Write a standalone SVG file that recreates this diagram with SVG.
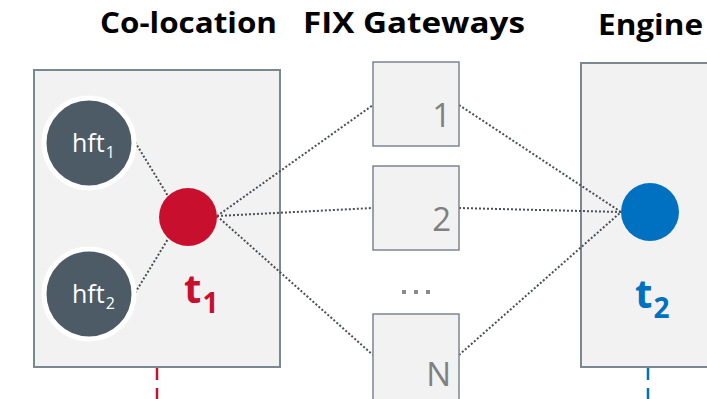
<svg xmlns="http://www.w3.org/2000/svg" width="707" height="399" viewBox="0 0 707 399">
  <style>
    .title { font-family: "Open Sans", "DejaVu Sans", sans-serif; font-weight: bold; font-size: 28px; fill: #000; }
    .panel { fill: #f2f2f2; stroke: #7b8791; stroke-width: 2; }
    .gw { fill: #f2f2f2; stroke: #7b8791; stroke-width: 1.5; }
    .gwnum { font-family: "Open Sans", "DejaVu Sans", sans-serif; font-size: 33px; fill: #808080; text-anchor: end; }
    .hft { fill: #4d5b66; stroke: #ffffff; stroke-width: 5; }
    .hftlbl { font-family: "Open Sans", "DejaVu Sans", sans-serif; font-size: 25px; fill: #ffffff; }
    .sub { font-size: 16px; }
    .tlbl { font-family: "Open Sans", "DejaVu Sans", sans-serif; font-weight: bold; font-size: 40px; }
    .tsub { font-size: 28px; }
    .link { stroke: #4a4f55; stroke-width: 2; stroke-dasharray: 2 2; fill: none; }
    .drop { stroke-width: 2.5; stroke-dasharray: 12 8; fill: none; }
  </style>

  <!-- column headings -->
  <text class="title" x="100" y="33" textLength="177" lengthAdjust="spacingAndGlyphs">Co-location</text>
  <text class="title" x="303" y="33" textLength="222" lengthAdjust="spacingAndGlyphs">FIX Gateways</text>
  <text class="title" x="598" y="35" textLength="105" lengthAdjust="spacingAndGlyphs">Engine</text>

  <!-- panels -->
  <rect class="panel" x="34" y="70" width="246" height="297"/>
  <rect class="panel" x="581" y="63" width="140" height="304"/>

  <!-- timestamp drop lines -->
  <line class="drop" x1="157" y1="368" x2="157" y2="399" stroke="#c8102e"/>
  <line class="drop" x1="648" y1="368" x2="648" y2="399" stroke="#0070c0"/>

  <!-- connectors -->
  <g id="connectors">
    <line class="link" x1="135" y1="142" x2="168" y2="196"/>
    <line class="link" x1="135" y1="293" x2="168" y2="239"/>
    <line class="link" x1="217" y1="216" x2="373" y2="105"/>
    <line class="link" x1="217" y1="216" x2="373" y2="208"/>
    <line class="link" x1="217" y1="216" x2="373" y2="355"/>
    <line class="link" x1="459" y1="105" x2="621" y2="212"/>
    <line class="link" x1="459" y1="208" x2="621" y2="212"/>
    <line class="link" x1="459" y1="355" x2="621" y2="212"/>
  </g>

  <!-- co-location clients -->
  <g id="hft1">
    <circle class="hft" cx="89" cy="143" r="45"/>
    <text class="hftlbl" x="72" y="152">hft<tspan class="sub" dx="1" dy="6">1</tspan></text>
  </g>
  <g id="hft2">
    <circle class="hft" cx="89" cy="294" r="45"/>
    <text class="hftlbl" x="72" y="303">hft<tspan class="sub" dx="1" dy="6">2</tspan></text>
  </g>

  <!-- t1 measurement point -->
  <g id="t1">
    <circle cx="188" cy="217" r="29" fill="#c8102e"/>
    <text class="tlbl" x="184" y="303" fill="#c8102e">t<tspan class="tsub" dx="1" dy="10">1</tspan></text>
  </g>

  <!-- FIX gateways -->
  <g id="gw1">
    <rect class="gw" x="373" y="62" width="86" height="84"/>
    <text class="gwnum" x="451" y="127">1</text>
  </g>
  <g id="gw2">
    <rect class="gw" x="373" y="166" width="86" height="84"/>
    <text class="gwnum" x="451" y="231">2</text>
  </g>
  <g id="gw-ellipsis" fill="#8a8a8a">
    <rect x="402" y="290" width="4" height="4"/>
    <rect x="414" y="290" width="4" height="4"/>
    <rect x="426" y="290" width="4" height="4"/>
  </g>
  <g id="gwN">
    <rect class="gw" x="373" y="314" width="86" height="90"/>
    <text class="gwnum" x="451" y="386">N</text>
  </g>

  <!-- t2 measurement point -->
  <g id="t2">
    <circle cx="650" cy="212" r="29" fill="#0070c0"/>
    <text class="tlbl" x="635" y="308" fill="#0070c0">t<tspan class="tsub" dx="1" dy="10">2</tspan></text>
  </g>
</svg>
